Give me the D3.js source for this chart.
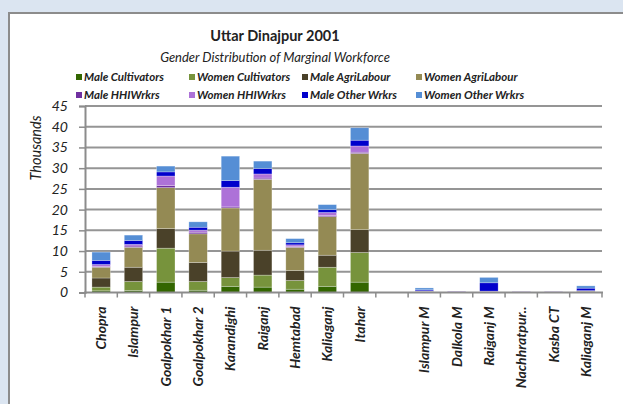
<!DOCTYPE html>
<html>
<head>
<meta charset="utf-8">
<script src="https://cdn.jsdelivr.net/npm/d3@7"></script>
<style>
  html, body { margin: 0; padding: 0; background: #dbe5f1; }
  svg { display: block; }
</style>
</head>
<body>
<svg id="chart" width="623" height="404"></svg>
<script>
// Blocks and towns of Uttar Dinajpur (blank entry separates rural blocks from towns)
const categories = ["Chopra", "Islampur", "Goalpokhar 1", "Goalpokhar 2", "Karandighi",
  "Raiganj", "Hemtabad", "Kaliaganj", "Itahar", "", "Islampur M", "Dalkola M",
  "Raiganj M", "Nachhratpur..", "Kasba CT", "Kaliaganj M"];

const seriesNames = ["Male Cultivators", "Women Cultivators", "Male AgriLabour", "Women AgriLabour",
  "Male HHIWrkrs", "Women HHIWrkrs", "Male Other  Wrkrs", "Women Other  Wrkrs"];

// Marginal workers, thousands
const maleCultivators  = [0.4, 0.5, 2.5, 0.55, 1.5, 1.3, 0.8, 1.5, 2.5, 0, 0.05, 0.01, 0.02, 0.01, 0.01, 0.05];
const womenCultivators = [0.9, 2.15, 8.2, 2.1, 2.1, 2.9, 2.1, 4.6, 7.15, 0, 0.1, 0.01, 0.02, 0.01, 0.01, 0.05];
const maleAgriLabour   = [2.2, 3.45, 4.7, 4.6, 6.4, 6.0, 2.4, 2.9, 5.5, 0, 0.05, 0.02, 0.05, 0.01, 0.01, 0.1];
const womenAgriLabour  = [2.6, 4.8, 9.9, 6.9, 10.4, 17.1, 5.6, 9.3, 18.4, 0, 0.1, 0.02, 0.05, 0.01, 0.01, 0.15];
const maleHHI          = [0.15, 0.3, 0.5, 0.4, 0.25, 0.3, 0.15, 0.25, 0.3, 0, 0.05, 0.05, 0.05, 0.05, 0.05, 0.05];
const womenHHI         = [0.5, 0.4, 2.3, 0.5, 4.75, 1.0, 0.45, 0.75, 1.5, 0, 0.05, 0.2, 0.15, 0.2, 0.2, 0.05];
const maleOther        = [1.0, 0.95, 1.0, 0.7, 1.6, 1.3, 0.5, 0.7, 1.4, 0, 0.25, 0.02, 2.0, 0.01, 0.01, 0.6];
const womenOther       = [2.0, 1.3, 1.4, 1.3, 5.9, 1.8, 1.0, 1.2, 3.0, 0, 0.45, 0.01, 1.3, 0.01, 0.01, 0.55];

const yTicks = [0, 5, 10, 15, 20, 25, 30, 35, 40, 45];

const seriesValues = [maleCultivators, womenCultivators, maleAgriLabour, womenAgriLabour,
  maleHHI, womenHHI, maleOther, womenOther];
const colors = ["#336600", "#77933c", "#4a4129", "#948a54", "#7030a0", "#ad72d8", "#0000cc", "#558ed5"];

const table = categories.map((c, i) => {
  const row = { cat: c, idx: i };
  seriesNames.forEach((s, k) => row[s] = seriesValues[k][i]);
  return row;
});

const FONT = "Lato, 'Open Sans', sans-serif";
const svg = d3.select("#chart");

// white chart panel
svg.append("rect").attr("x", 9).attr("y", 13).attr("width", 640).attr("height", 420)
  .attr("fill", "#ffffff").attr("stroke", "#8c8c8c").attr("stroke-width", 2);

const plot = { left: 85, right: 602, top: 106, bottom: 292.5 };

const x = d3.scaleBand().domain(d3.range(categories.length))
  .range([plot.left, plot.right]).paddingInner(0.43).paddingOuter(0.215);
const xEdge = d3.scaleLinear().domain([0, categories.length]).range([plot.left, plot.right]);
const y = d3.scaleLinear().domain([0, 45]).range([plot.bottom, plot.top]);

// gridlines
svg.append("g").selectAll("line").data(yTicks.filter(t => t > 0)).join("line")
  .attr("x1", plot.left).attr("x2", plot.right)
  .attr("y1", d => y(d)).attr("y2", d => y(d))
  .attr("stroke", "#959595").attr("stroke-width", 2);

// stacked bars
const stack = d3.stack().keys(seriesNames)(table);
svg.append("g").selectAll("g").data(stack).join("g")
  .attr("fill", (d, k) => colors[k])
  .selectAll("rect").data(d => d).join("rect")
  .attr("x", d => x(d.data.idx))
  .attr("width", x.bandwidth())
  .attr("y", d => y(d[1]))
  .attr("height", d => Math.max(0, y(d[0]) - y(d[1])))
  .attr("stroke", "rgba(255,255,255,0.45)").attr("stroke-width", 0.6);

// y axis
const yAxis = svg.append("g").attr("transform", `translate(${plot.left},0)`)
  .call(d3.axisLeft(y).tickValues(yTicks).tickSize(6).tickPadding(11));
yAxis.select(".domain").attr("stroke", "#8c8c8c").attr("stroke-width", 2);
yAxis.selectAll(".tick line").attr("stroke", "#8c8c8c").attr("stroke-width", 1.5);
yAxis.selectAll(".tick text").attr("font-family", FONT)
  .attr("font-style", "italic").attr("font-size", 14).attr("fill", "#222");

// x axis
svg.append("line").attr("x1", plot.left - 1).attr("x2", plot.right + 1)
  .attr("y1", plot.bottom).attr("y2", plot.bottom)
  .attr("stroke", "#8c8c8c").attr("stroke-width", 2);
svg.append("g").selectAll("line").data(d3.range(categories.length + 1)).join("line")
  .attr("x1", d => xEdge(d)).attr("x2", d => xEdge(d))
  .attr("y1", plot.bottom).attr("y2", plot.bottom + 5)
  .attr("stroke", "#8c8c8c").attr("stroke-width", 1.5);
svg.append("g").selectAll("text").data(table).join("text")
  .attr("transform", d => `translate(${x(d.idx) + x.bandwidth() / 2 + 5},${plot.bottom + 14}) rotate(-90)`)
  .attr("text-anchor", "end")
  .attr("font-family", FONT)
  .attr("font-style", "italic").attr("font-weight", "bold").attr("font-size", 14)
  .attr("fill", "#222")
  .text(d => d.cat);

// axis title
svg.append("text").attr("transform", "translate(41,148) rotate(-90)")
  .attr("text-anchor", "middle")
  .attr("font-family", FONT)
  .attr("font-style", "italic").attr("font-size", 14.5).attr("fill", "#222")
  .text("Thousands");

// titles
svg.append("text").attr("x", 275).attr("y", 41).attr("text-anchor", "middle")
  .attr("font-family", FONT)
  .attr("font-weight", "bold").attr("font-size", 14.5).attr("fill", "#222")
  .text("Uttar Dinajpur  2001");
svg.append("text").attr("x", 275).attr("y", 62).attr("text-anchor", "middle")
  .attr("font-family", FONT)
  .attr("font-style", "italic").attr("font-size", 13).attr("fill", "#222")
  .text("Gender Distribution of Marginal Workforce");

// legend
const legendX = [76, 189, 302, 416];
const legendY = [81, 99];
const legend = svg.append("g").selectAll("g").data(seriesNames).join("g")
  .attr("transform", (d, i) => `translate(${legendX[i % 4]},${legendY[Math.floor(i / 4)]})`);
legend.append("rect").attr("x", 0).attr("y", -7).attr("width", 6).attr("height", 6)
  .attr("fill", (d, i) => colors[i]);
legend.append("text").attr("x", 8).attr("y", 0)
  .attr("font-family", FONT)
  .attr("font-style", "italic").attr("font-weight", "bold").attr("font-size", 11.5)
  .attr("fill", "#222")
  .text(d => d);
</script>
</body>
</html>
